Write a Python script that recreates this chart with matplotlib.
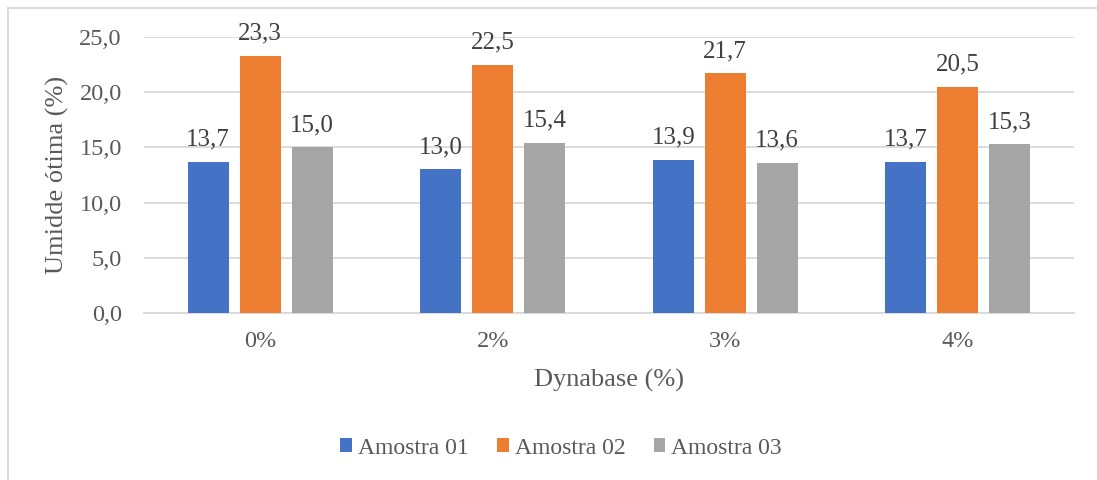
import matplotlib
matplotlib.use("Agg")
import matplotlib.pyplot as plt
from matplotlib.patches import Rectangle
import numpy as np

categories = ["0%", "2%", "3%", "4%"]
series_names = ["Amostra 01", "Amostra 02", "Amostra 03"]
amostra_01 = [13.7, 13.0, 13.9, 13.7]
amostra_02 = [23.3, 22.5, 21.7, 20.5]
amostra_03 = [15.0, 15.4, 13.6, 15.3]
y_ticks = [0, 5, 10, 15, 20, 25]

colors = ["#4472C4", "#ED7D31", "#A5A5A5"]
text_color = "#595959"
label_color = "#404040"
grid_color = "#D9D9D9"

plt.rcParams["font.family"] = ["Liberation Serif", "DejaVu Serif"]

W, H = 1097, 480
fig = plt.figure(figsize=(W / 100, H / 100), dpi=100)
ax = fig.add_axes([144 / W, 1 - 313 / H, 930 / W, 276 / H])

x = np.arange(len(categories))
width = 0.176
step = 0.2235
for i, (vals, name) in enumerate(zip([amostra_01, amostra_02, amostra_03], series_names)):
    pos = x + (i - 1) * step
    bars = ax.bar(pos, vals, width, color=colors[i], label=name, zorder=3)
    for b, v in zip(bars, vals):
        ax.text(b.get_x() + b.get_width() / 2, v + 1.0, f"{v:.1f}".replace(".", ","),
                ha="center", va="bottom", fontsize=18, color=label_color)

ax.set_xlim(-0.5, len(categories) - 0.5)
ax.set_ylim(0, 25)
ax.set_yticks(y_ticks)
ax.set_yticklabels([f"{t:.1f}".replace(".", ",") for t in y_ticks])
ax.set_xticks(x)
ax.set_xticklabels(categories)
ax.tick_params(axis="both", length=0, labelsize=17.5, labelcolor=text_color)
ax.tick_params(axis="y", pad=16)
ax.tick_params(axis="x", pad=13)
ax.grid(axis="y", color=grid_color, linewidth=1.3, zorder=0)
for s in ["top", "right", "left"]:
    ax.spines[s].set_visible(False)
ax.spines["bottom"].set_color(grid_color)
ax.spines["bottom"].set_linewidth(1.3)

fig.text(609 / W, 1 - 380 / H, "Dynabase (%)", fontsize=19, color=text_color,
         ha="center", va="center")
fig.text(57 / W, 1 - 175 / H, "Umidde ótima (%)", fontsize=19, color=text_color,
         ha="center", va="center", rotation=90)

fig.legend(loc="center", bbox_to_anchor=(561 / W, 1 - 448 / H), ncol=3,
           frameon=False, fontsize=17, labelcolor=text_color,
           handlelength=0.5, handleheight=0.5, handletextpad=0.25, columnspacing=1.2)

fig.patches.append(Rectangle((8 / W, -0.1), 1.2, 1 - 8 / H + 0.1,
                             transform=fig.transFigure, fill=False,
                             edgecolor=grid_color, linewidth=1.3))

fig.savefig("out.png", dpi=100)
